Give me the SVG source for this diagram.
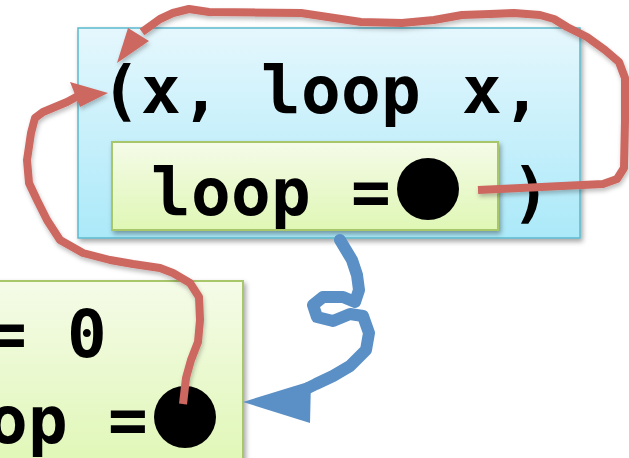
<svg xmlns="http://www.w3.org/2000/svg" width="629" height="458" viewBox="0 0 629 458">
  <defs>
    <linearGradient id="gradBlue" x1="0" y1="0" x2="0" y2="1">
      <stop offset="0" stop-color="#e5f7fd"/>
      <stop offset="1" stop-color="#abe9f9"/>
    </linearGradient>
    <linearGradient id="gradGreen" x1="0" y1="0" x2="0" y2="1">
      <stop offset="0" stop-color="#f5fbe8"/>
      <stop offset="1" stop-color="#dff7b5"/>
    </linearGradient>
    <filter id="shadow" x="-10%" y="-10%" width="130%" height="130%">
      <feDropShadow dx="2" dy="3" stdDeviation="2.5" flood-color="#000" flood-opacity="0.35"/>
    </filter>
    <filter id="lineShadow" x="-10%" y="-10%" width="130%" height="130%">
      <feDropShadow dx="1" dy="3" stdDeviation="2" flood-color="#000" flood-opacity="0.25"/>
    </filter>
  </defs>
  <style>
    .outer { fill: url(#gradBlue); stroke: #5bb9cd; stroke-width: 1.5; }
    .inner { fill: url(#gradGreen); stroke: #a8c66b; stroke-width: 2; }
    .code { font-family: "DejaVu Sans Mono", "Liberation Mono", monospace; font-weight: bold; font-size: 66px; fill: #000; }
    .hole { fill: #000; }
    .red { fill: none; stroke: #cd6760; stroke-width: 8; stroke-linejoin: round; stroke-linecap: butt; }
    .redHead { fill: #cd6760; }
    .blue { fill: none; stroke: #5b90c6; stroke-width: 12; stroke-linejoin: round; stroke-linecap: round; }
    .blueHead { fill: #5b90c6; }
  </style>

  <rect width="629" height="458" fill="#ffffff"/>

  <!-- outer tuple node; glyphs placed on a fixed 40px monospace grid -->
  <g id="tuple">
    <rect class="outer" x="78" y="28" width="502" height="210" filter="url(#shadow)"/>
    <text class="code" y="113" xml:space="preserve" x="101 141 181 221 261 301 341 381 422 462 502">(x, loop x,</text>
  </g>

  <!-- binding nested inside the tuple -->
  <g id="loopBinding">
    <rect class="inner" x="112" y="142" width="386" height="88" filter="url(#shadow)"/>
    <text class="code" y="215" xml:space="preserve" x="151 191 231 271 311 351">loop =</text>
    <circle class="hole" cx="428" cy="189" r="31"/>
  </g>

  <g id="tupleClose">
    <text class="code" x="511" y="215">)</text>
  </g>

  <!-- environment record, bottom left -->
  <g id="env">
    <rect class="inner" x="-5" y="281" width="248" height="190" filter="url(#shadow)"/>
    <text class="code" y="357" xml:space="preserve" x="-13 27 67">= 0</text>
    <text class="code" y="443" xml:space="preserve" x="-12 28 68 108">op =</text>
    <circle class="hole" cx="185" cy="417" r="31"/>
  </g>

  <!-- pointers -->
  <g id="connectors">
    <g filter="url(#lineShadow)">
      <polyline class="red" points="478,190 603,184 617,179 624,168 625,120 625,78 619,62 605,50 587,37 567,27 554,19 540,15 514,13 490,14 462,15 434,20 402,23 361,22 301,13 209,12 189,9 173,13 160,19 142,32"/>
      <polygon class="redHead" points="117,63 128,28 149,41"/>

      <polyline class="red" points="183,404 186,378 191,360 198,342 200,320 199,297 190,283 173,273 160,268 133,264 110,260 83,253 60,240 47,220 37,200 29,183 27,160 31,133 35,118 43,112 67,102 78,96"/>
      <polygon class="redHead" points="108,93 70,82 80,107"/>
    </g>

    <polyline class="blue" points="340,240 352,260 357,275 359,290 355,302 343,297 323,297 313,305 317,317 333,321 350,314 363,316 369,333 366,350 350,366 333,376 316,384 308,388"/>
    <polygon class="blueHead" points="243,402 311,381 310,423"/>
  </g>
</svg>
